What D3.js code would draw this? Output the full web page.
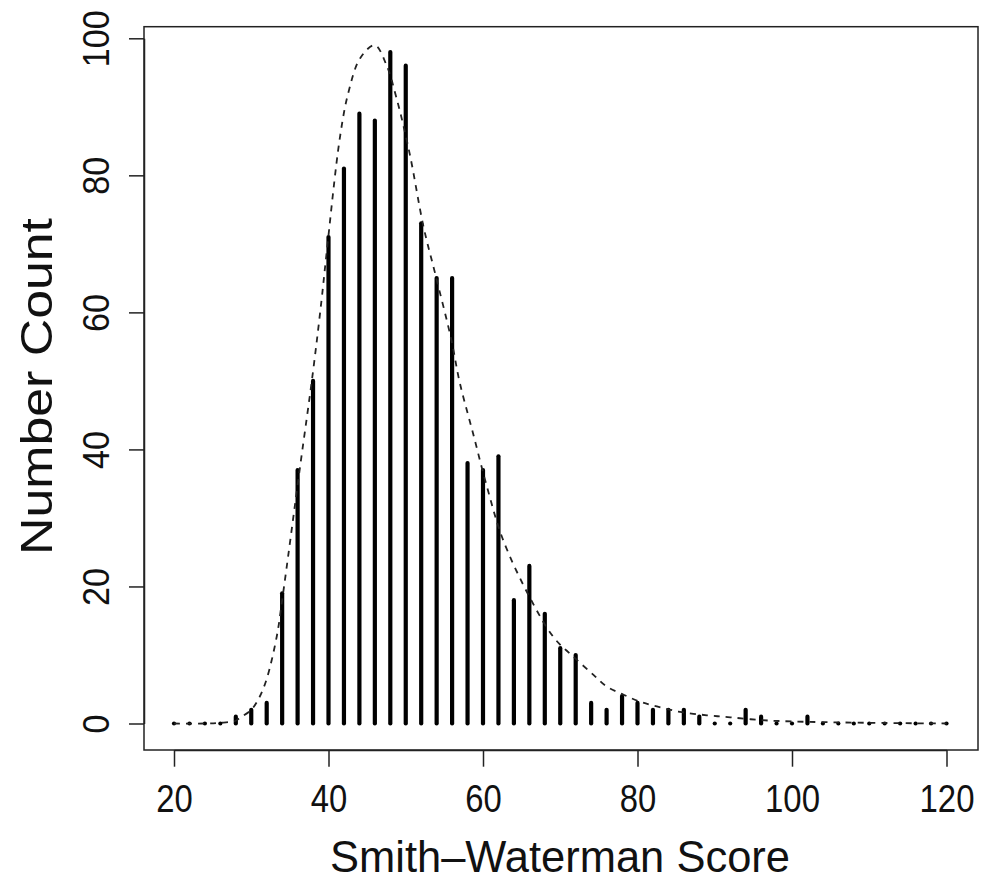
<!DOCTYPE html>
<html>
<head>
<meta charset="utf-8">
<script src="https://cdn.jsdelivr.net/npm/d3@7"></script>
<style>
  body { margin: 0; background: #fff; }
  svg { display: block; font-family: "Liberation Sans", Arial, sans-serif; }
  .axis path, .axis line { stroke: #222; stroke-width: 1.5; }
  .axis text { fill: #111; }
</style>
</head>
<body>
<svg id="chart"></svg>
<script>
// histogram counts per Smith-Waterman score (even scores)
const scores = [20, 22, 24, 26, 28, 30, 32, 34, 36, 38, 40, 42, 44, 46, 48, 50, 52, 54, 56, 58,
  60, 62, 64, 66, 68, 70, 72, 74, 76, 78, 80, 82, 84, 86, 88, 90, 92, 94, 96, 98,
  100, 102, 104, 106, 108, 110, 112, 114, 116, 118, 120];
const counts = [0, 0, 0, 0, 1, 2, 3, 19, 37, 50, 71, 81, 89, 88, 98, 96, 73, 65, 65, 38,
  37, 39, 18, 23, 16, 11, 10, 3, 2, 4, 3, 2, 2, 2, 1, 0, 0, 2, 1, 0,
  0, 1, 0, 0, 0, 0, 0, 0, 0, 0, 0];

// fitted density curve (dashed)
const fitX = [20, 24, 26, 28, 28.5, 30, 31, 32, 33.3, 34, 36.3, 38, 39.1, 39.7, 41.5, 42.6, 44.1, 46,
  47.5, 48.8, 50.5, 52.3, 53.8, 55.9, 57, 58.7, 60.5, 62.6, 66.1, 69.2, 71.7, 74.3, 76,
  78.2, 80.3, 82.5, 85.5, 89, 92, 96, 100, 110, 120];
const fitY = [0, 0, 0.1, 0.4, 0.8, 2, 3.7, 6.5, 12.7, 18, 37.3, 51.4, 61.8, 68.1, 85.7, 92.2, 97.1, 99,
  96.1, 91.3, 83.2, 72.5, 65.7, 56, 49.7, 42.4, 34.6, 26.8, 18.3, 12.5, 9.75, 7.1, 5.4,
  4.2, 3.2, 2.5, 1.7, 1.2, 0.9, 0.5, 0.3, 0.1, 0];

const xTicks = [20, 40, 60, 80, 100, 120];
const yTicks = [0, 20, 40, 60, 80, 100];

const xLabel = 'Smith\u2013Waterman Score';
const yLabel = 'Number Count';

class HistChart {
  constructor(_config) {
    this.config = {
      parentElement: _config.parentElement,
      containerWidth: _config.containerWidth || 990,
      containerHeight: _config.containerHeight || 882,
      box: { left: 144, right: 978, top: 26.7, bottom: 750 }
    };
    this.initVis();
  }

  initVis() {
    let vis = this;
    const box = vis.config.box;

    vis.svg = d3.select(vis.config.parentElement)
      .attr('width', vis.config.containerWidth)
      .attr('height', vis.config.containerHeight);

    // scales map straight onto page pixels
    vis.xScale = d3.scaleLinear().domain([20, 120]).range([174, 946.5]);
    vis.yScale = d3.scaleLinear().domain([0, 100]).range([723.5, 38.3]);

    vis.xAxis = d3.axisBottom(vis.xScale).tickValues(xTicks).tickSize(16.7).tickSizeOuter(0);
    vis.yAxis = d3.axisLeft(vis.yScale).tickValues(yTicks).tickSize(15).tickSizeOuter(0);

    // plot frame
    vis.svg.append('rect')
      .attr('x', box.left)
      .attr('y', box.top)
      .attr('width', box.right - box.left)
      .attr('height', box.bottom - box.top)
      .attr('fill', 'none')
      .attr('stroke', '#222')
      .attr('stroke-width', 1.5);

    vis.xAxisG = vis.svg.append('g')
      .attr('class', 'axis x-axis')
      .attr('transform', `translate(0,${box.bottom})`);

    vis.yAxisG = vis.svg.append('g')
      .attr('class', 'axis y-axis')
      .attr('transform', `translate(${box.left},0)`);

    vis.renderVis();
  }

  renderVis() {
    let vis = this;
    const data = scores.map((s, i) => ({ score: s, count: counts[i] }));

    // vertical "h" lines with round caps (zero counts become dots)
    vis.svg.append('g')
      .selectAll('line')
      .data(data)
      .join('line')
      .attr('x1', d => vis.xScale(d.score))
      .attr('x2', d => vis.xScale(d.score))
      .attr('y1', vis.yScale(0))
      .attr('y2', d => vis.yScale(d.count))
      .attr('stroke', '#000')
      .attr('stroke-width', 4.2)
      .attr('stroke-linecap', 'round');

    const fit = fitX.map((x, i) => [x, fitY[i]]);
    const line = d3.line()
      .x(d => vis.xScale(d[0]))
      .y(d => vis.yScale(d[1]))
      .curve(d3.curveCatmullRom);

    vis.svg.append('path')
      .datum(fit)
      .attr('d', line)
      .attr('fill', 'none')
      .attr('stroke', '#222')
      .attr('stroke-width', 1.8)
      .attr('stroke-dasharray', '6,6');

    vis.xAxisG.call(vis.xAxis);
    vis.xAxisG.selectAll('.tick text')
      .attr('y', 61.7)
      .attr('dy', 0)
      .attr('font-size', 39)
      .attr('textLength', d => d >= 100 ? 55 : 36.5)
      .attr('lengthAdjust', 'spacingAndGlyphs');

    vis.yAxis.tickPadding(0);
    vis.yAxisG.call(vis.yAxis);
    vis.yAxisG.selectAll('.tick text')
      .attr('transform', 'rotate(-90)')
      .attr('text-anchor', 'middle')
      .attr('x', 0)
      .attr('y', -34.7)
      .attr('dy', 0)
      .attr('font-size', 36)
      .attr('textLength', d => String(d).length * 19)
      .attr('lengthAdjust', 'spacingAndGlyphs');

    // axis titles
    vis.svg.append('text')
      .attr('x', 560)
      .attr('y', 872)
      .attr('text-anchor', 'middle')
      .attr('font-size', 44)
      .attr('textLength', 460)
      .attr('lengthAdjust', 'spacingAndGlyphs')
      .attr('fill', '#111')
      .text(xLabel);

    vis.svg.append('text')
      .attr('transform', 'translate(51.7,386.5) rotate(-90)')
      .attr('text-anchor', 'middle')
      .attr('font-size', 45)
      .attr('textLength', 337)
      .attr('lengthAdjust', 'spacingAndGlyphs')
      .attr('fill', '#111')
      .text(yLabel);
  }
}

new HistChart({ parentElement: '#chart' });
</script>
</body>
</html>
